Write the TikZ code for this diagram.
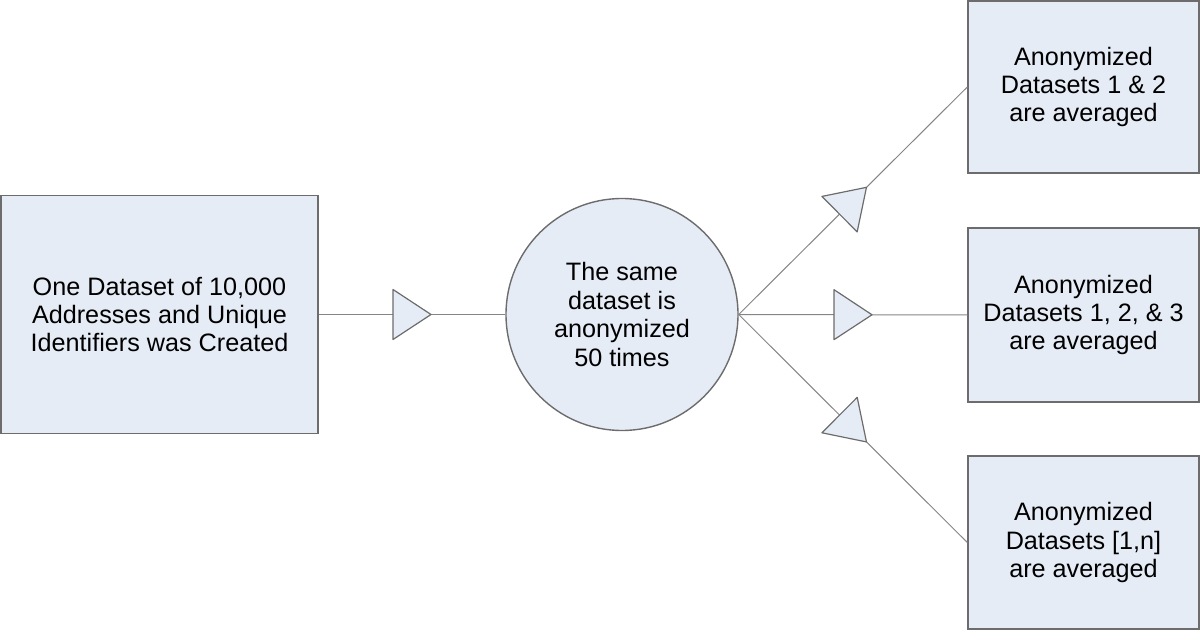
\documentclass[tikz,border=0pt]{standalone}
\usepackage{fontspec}
\setmainfont{Liberation Sans}
\usetikzlibrary{decorations.markings}
\definecolor{boxfill}{HTML}{E6ECF6}
\definecolor{boxedge}{HTML}{6C6C6C}
\definecolor{linegray}{HTML}{858585}

\begin{document}
\begin{tikzpicture}[x=0.5pt,y=-0.5pt,
 box/.style={draw=boxedge,fill=boxfill,line width=0.7pt,align=center,inner sep=0pt,font=\fontsize{12.6}{14.2}\selectfont},
 flow/.style={draw=linegray,line width=0.5pt,postaction={decorate,decoration={markings,mark=at position 0.5 with {\draw[draw=boxedge,fill=boxfill,line width=0.6pt,line join=round] (9.5pt,0pt)--(-9.5pt,12.5pt)--(-9.5pt,-12.5pt)--cycle;}}}}]
 \useasboundingbox (0,0) rectangle (1200,630);
 \node[box,minimum width=158.5pt,minimum height=119pt] (src) at (159.5,314.5) {One Dataset of 10,000\\Addresses and Unique\\Identifiers was Created};
 \node[box,circle,minimum size=116pt] (anon) at (622,314.5) {The same\\dataset is\\anonymized\\50 times};
 \node[box,minimum width=115.5pt,minimum height=86pt] (avg2) at (1083.5,87) {Anonymized\\Datasets 1 \& 2\\are averaged};
 \node[box,minimum width=115.5pt,minimum height=87pt] (avg3) at (1083.5,315) {Anonymized\\Datasets 1, 2, \& 3\\are averaged};
 \node[box,minimum width=115.5pt,minimum height=86.5pt] (avgn) at (1083.5,542.5) {Anonymized\\Datasets [1,n]\\are averaged};
 \draw[flow] (src.east) -- (anon.west);
 \draw[flow] (anon.east) -- (avg2.west);
 \draw[flow] (anon.east) -- (avg3.west);
 \draw[flow] (anon.east) -- (avgn.west);
\end{tikzpicture}
\end{document}
